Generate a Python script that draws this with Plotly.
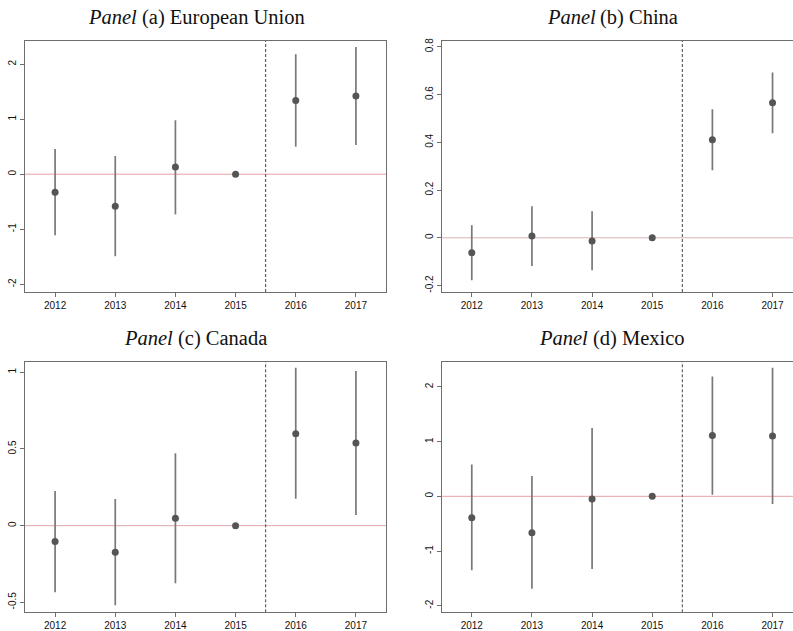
import plotly.graph_objects as go

years = [2012, 2013, 2014, 2015, 2016, 2017]

eu_est = [-0.33, -0.58, 0.13, 0.0, 1.34, 1.42]
eu_lo = [-1.11, -1.49, -0.73, 0.0, 0.50, 0.53]
eu_hi = [0.46, 0.33, 0.98, 0.0, 2.18, 2.31]

cn_est = [-0.063, 0.007, -0.013, 0.0, 0.41, 0.565]
cn_lo = [-0.178, -0.118, -0.136, 0.0, 0.283, 0.438]
cn_hi = [0.052, 0.132, 0.111, 0.0, 0.538, 0.692]

ca_est = [-0.104, -0.173, 0.048, 0.0, 0.60, 0.539]
ca_lo = [-0.434, -0.519, -0.375, 0.0, 0.176, 0.070]
ca_hi = [0.226, 0.174, 0.472, 0.0, 1.030, 1.008]

mx_est = [-0.39, -0.665, -0.05, 0.0, 1.11, 1.10]
mx_lo = [-1.35, -1.69, -1.33, 0.0, 0.03, -0.14]
mx_hi = [0.58, 0.37, 1.25, 0.0, 2.19, 2.35]

titles = ["<i>Panel</i> (a) European Union", "<i>Panel</i>\u2009(b) China",
          "<i>Panel</i> (c) Canada", "<i>Panel</i> (d) Mexico"]

ytick_a = [-2, -1, 0, 1, 2]
ytick_b = [-0.2, 0, 0.2, 0.4, 0.6, 0.8]
ytick_c = [-0.5, 0, 0.5, 1]
ytick_d = [-2, -1, 0, 1, 2]

panels = [
    dict(est=eu_est, lo=eu_lo, hi=eu_hi, xd=[25/793, 386/793], yd=[1-292/631, 1-41/631],
         xr=[2011.5, 2017.5], yr=[-2.14, 2.42], yt=ytick_a, yl=["-2", "-1", "0", "1", "2"], right=True,
         tx=196, ty=17, zc="#e8a0a4"),
    dict(est=cn_est, lo=cn_lo, hi=cn_hi, xd=[441.7/793, 1.0], yd=[1-292/631, 1-41/631],
         xr=[2011.5, 2017.34], yr=[-0.227, 0.824], yt=ytick_b, yl=["-0.2", "0", "0.2", "0.4", "0.6", "0.8"], right=False,
         tx=612, ty=18, zc="#d8b4b4"),
    dict(est=ca_est, lo=ca_lo, hi=ca_hi, xd=[25/793, 386/793], yd=[1-612.3/631, 1-361.7/631],
         xr=[2011.5, 2017.5], yr=[-0.565, 1.069], yt=ytick_c, yl=["-0.5", "0", "0.5", "1"], right=True,
         tx=195, ty=338, zc="#e0a8ac"),
    dict(est=mx_est, lo=mx_lo, hi=mx_hi, xd=[441.7/793, 1.0], yd=[1-612.3/631, 1-361.7/631],
         xr=[2011.5, 2017.34], yr=[-2.12, 2.46], yt=ytick_d, yl=["-2", "-1", "0", "1", "2"], right=False,
         tx=612, ty=338, zc="#e8a0a4"),
]

fig = go.Figure()
layout = dict(
    width=793, height=631, margin=dict(l=0, r=0, t=0, b=0, autoexpand=False),
    paper_bgcolor="white", plot_bgcolor="white", showlegend=False,
    annotations=[], shapes=[],
)
frame_col = "#6e6e6e"
tick_font = dict(family="Liberation Sans, Arial, sans-serif", size=10, color="#111")

for i, p in enumerate(panels):
    n = i + 1
    xa = "x" if n == 1 else f"x{n}"
    ya = "y" if n == 1 else f"y{n}"
    fig.add_trace(go.Scatter(
        x=years, y=p["est"], mode="markers", xaxis=xa, yaxis=ya,
        marker=dict(color="#555555", size=7),
        error_y=dict(type="data", symmetric=False,
                     array=[h - e for h, e in zip(p["hi"], p["est"])],
                     arrayminus=[e - l for e, l in zip(p["est"], p["lo"])],
                     color="#787878", thickness=1.7, width=0),
    ))
    layout["xaxis" if n == 1 else f"xaxis{n}"] = dict(
        domain=p["xd"], anchor=ya, range=p["xr"], tickvals=years,
        ticktext=[str(y) for y in years], showgrid=False, zeroline=False,
        showline=True, linecolor=frame_col, linewidth=1, mirror=True,
        ticks="outside", ticklen=4, tickcolor=frame_col, tickfont=tick_font,
        automargin=False,
    )
    layout["yaxis" if n == 1 else f"yaxis{n}"] = dict(
        domain=p["yd"], anchor=xa, range=p["yr"], tickvals=p["yt"], ticktext=p["yl"],
        showgrid=False, zeroline=False, showline=True, linecolor=frame_col, linewidth=1,
        mirror=p["right"], ticks="outside", ticklen=4, tickcolor=frame_col,
        tickfont=tick_font, tickangle=-90, automargin=False,
    )
    layout["shapes"].append(dict(type="line", xref=f"{xa} domain", yref=ya, x0=0, x1=1, y0=0, y1=0,
                                 line=dict(color=p["zc"], width=1), layer="below"))
    layout["shapes"].append(dict(type="line", xref=xa, yref=f"{ya} domain", x0=2015.5, x1=2015.5, y0=0, y1=1,
                                 line=dict(color="#444444", width=1, dash="3px,2px"), layer="below"))
    layout["annotations"].append(dict(
        text=titles[i], xref="paper", yref="paper", x=p["tx"]/793, y=1-p["ty"]/631,
        xanchor="center", yanchor="middle", showarrow=False,
        font=dict(family="Liberation Serif, Times New Roman, serif", size=20.5, color="#111"),
    ))

fig.update_layout(**layout)
fig.write_html("out.html", config={"displayModeBar": False},
               post_script="document.body.style.margin='0px';document.body.style.overflow='hidden';")
